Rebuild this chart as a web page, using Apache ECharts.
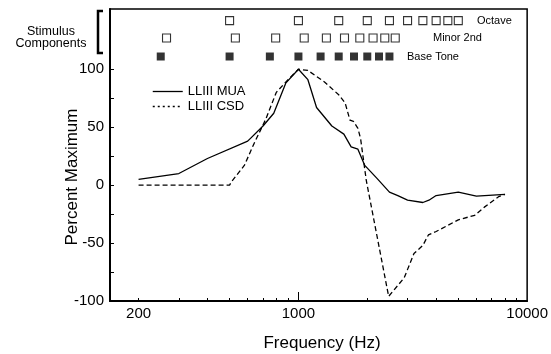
<!DOCTYPE html>
<html>
<head>
<meta charset="utf-8">
<script src="https://cdn.jsdelivr.net/npm/echarts@6/dist/echarts.min.js"></script>
<style>
html,body{margin:0;padding:0;background:#fff;}
#chart{width:551px;height:354px;}
</style>
</head>
<body>
<div id="chart"></div>
<script>
// ---- Data ----
const muaFreq = [200, 300, 400, 600, 700, 780, 880, 1000, 1100, 1200, 1400, 1580, 1700, 1820, 1950, 2200, 2500, 2720, 3000, 3500, 3720, 4000, 5000, 6000, 8000];
const muaVal  = [5,   10,  23,  38,  51,  62,  88,  100,  91,   67,   51,   44,   33,   31,   17,   6,    -6,   -9,   -13,  -15,  -13,  -9,   -6,   -9.5, -8];

const csdFreq = [200, 500, 510, 580, 640, 720, 800, 890, 1000, 1100, 1300, 1500, 1600, 1680, 1740, 1820, 1870, 1980, 2480, 2900, 3200, 3500, 3700, 4000, 5000, 5900, 6500, 7500, 8000];
const csdVal  = [0,   0,   3,   17,  36,  57,  80,  90,  100,  99,   89,   78,   71,   56,   55,   49,   40,   4,    -96,  -80,  -59,  -52,  -43,  -40,  -30,  -26,  -19,  -10,  -8];

const baseTone = [250, 500, 750, 1000, 1250, 1500, 1750, 2000, 2250, 2500];
const minor2nd = [265, 530, 795, 1060, 1325, 1590, 1855, 2120, 2385, 2650];
const octave   = [500, 1000, 1500, 2000, 2500, 3000, 3500, 4000, 4500, 5000];

const xLabels = [200, 1000, 10000];
const xMinorTicks = [200, 300, 400, 500, 600, 700, 800, 900, 2000, 3000, 4000, 5000, 6000, 7000, 8000, 9000];
const xMajorTicks = [1000];
const yLabels = [-100, -50, 0, 50, 100];
const yTicks = [-100, -75, -50, -25, 0, 25, 50, 75, 100];

// row levels (in percent units) for the stimulus-component rows
const ROW_OCTAVE = 142, ROW_MINOR = 127, ROW_BASE = 111;

const FONT = "'Liberation Sans', Arial, Helvetica, sans-serif";

const chart = echarts.init(document.getElementById('chart'), null, {renderer: 'canvas'});

const zip = (xs, ys) => xs.map((x, i) => [x, ys[i]]);

const option = {
  animation: false,
  backgroundColor: '#fff',
  textStyle: {fontFamily: FONT, color: '#000'},
  grid: {left: 110, right: 21, top: 9, bottom: 53, show: true, borderColor: '#000', borderWidth: 1.5, backgroundColor: 'transparent'},
  xAxis: [
    {
      type: 'log', logBase: 10, min: 150, max: 10000, position: 'bottom',
      axisLine: {show: true, onZero: false, lineStyle: {color: '#000', width: 2}},
      axisTick: {show: true, inside: true, length: 9, customValues: xMajorTicks, lineStyle: {color: '#000', width: 1}},
      axisLabel: {show: true, customValues: xLabels, color: '#000', fontSize: 15, fontFamily: FONT, margin: 5,
                  formatter: v => String(Math.round(v))},
      splitLine: {show: false}, minorTick: {show: false}
    },
    {
      type: 'log', logBase: 10, min: 150, max: 10000, position: 'bottom',
      axisLine: {show: false, onZero: false},
      axisTick: {show: true, inside: true, length: 3, customValues: xMinorTicks, lineStyle: {color: '#000', width: 1}},
      axisLabel: {show: false},
      splitLine: {show: false}
    }
  ],
  yAxis: {
    type: 'value', min: -100, max: 152, interval: 50,
    axisLine: {show: true, onZero: false, lineStyle: {color: '#000', width: 2}},
    axisTick: {show: true, inside: true, length: 4, customValues: yTicks, lineStyle: {color: '#000', width: 1}},
    axisLabel: {customValues: yLabels, color: '#000', fontSize: 15, fontFamily: FONT, margin: 6},
    splitLine: {show: false}
  },
  legend: {
    show: true, orient: 'vertical', left: 147, top: 80,
    itemWidth: 30, itemHeight: 10, itemGap: 2,
    textStyle: {fontSize: 13, fontFamily: FONT, color: '#000'},
    data: [
      {name: 'LLIII MUA', itemStyle: {opacity: 0}, lineStyle: {type: 'solid', width: 1.3, color: '#000'}},
      {name: 'LLIII CSD', itemStyle: {opacity: 0}, lineStyle: {type: [2, 3], width: 1.5, color: '#000'}}
    ]
  },
  series: [
    {
      name: 'LLIII MUA', type: 'line', xAxisIndex: 0, data: zip(muaFreq, muaVal),
      symbol: 'none', showSymbol: false, smooth: false,
      lineStyle: {color: '#000', width: 1.3, type: 'solid'}, itemStyle: {color: '#000'}
    },
    {
      name: 'LLIII CSD', type: 'line', xAxisIndex: 0, data: zip(csdFreq, csdVal),
      symbol: 'none', showSymbol: false, smooth: false,
      lineStyle: {color: '#000', width: 1.3, type: [5, 3]}, itemStyle: {color: '#000'}
    },
    {
      name: 'Base Tone', type: 'scatter', xAxisIndex: 0, data: baseTone.map(f => [f, ROW_BASE]),
      symbol: 'rect', symbolSize: 8, itemStyle: {color: '#000'}, silent: true
    },
    {
      name: 'Minor 2nd', type: 'scatter', xAxisIndex: 0, data: minor2nd.map(f => [f, ROW_MINOR]),
      symbol: 'rect', symbolSize: 8, itemStyle: {color: '#fff', borderColor: '#000', borderWidth: 1.1}, silent: true
    },
    {
      name: 'Octave', type: 'scatter', xAxisIndex: 0, data: octave.map(f => [f, ROW_OCTAVE]),
      symbol: 'rect', symbolSize: 8, itemStyle: {color: '#fff', borderColor: '#000', borderWidth: 1.1}, silent: true
    }
  ],
  graphic: [
    {type: 'text', x: 477, y: 21, style: {text: 'Octave', font: '11px ' + FONT, fill: '#000', verticalAlign: 'middle', align: 'left'}},
    {type: 'text', x: 433, y: 38, style: {text: 'Minor 2nd', font: '11px ' + FONT, fill: '#000', verticalAlign: 'middle', align: 'left'}},
    {type: 'text', x: 407, y: 57, style: {text: 'Base Tone', font: '11px ' + FONT, fill: '#000', verticalAlign: 'middle', align: 'left'}},
    {type: 'text', x: 51, y: 32, style: {text: 'Stimulus', font: '12.5px ' + FONT, fill: '#000', verticalAlign: 'middle', align: 'center'}},
    {type: 'text', x: 51, y: 44, style: {text: 'Components', font: '12.5px ' + FONT, fill: '#000', verticalAlign: 'middle', align: 'center'}},
    {type: 'polyline', shape: {points: [[103, 11], [98, 11], [98, 53], [103, 53]]}, style: {stroke: '#000', lineWidth: 2.5, fill: null}},
    {type: 'text', x: 322, y: 343, style: {text: 'Frequency (Hz)', font: '17px ' + FONT, fill: '#000', verticalAlign: 'middle', align: 'center'}},
    {type: 'text', x: 72, y: 177, rotation: Math.PI / 2, style: {text: 'Percent Maximum', font: '17px ' + FONT, fill: '#000', verticalAlign: 'middle', align: 'center'}}
  ]
};

chart.setOption(option);
</script>
</body>
</html>
